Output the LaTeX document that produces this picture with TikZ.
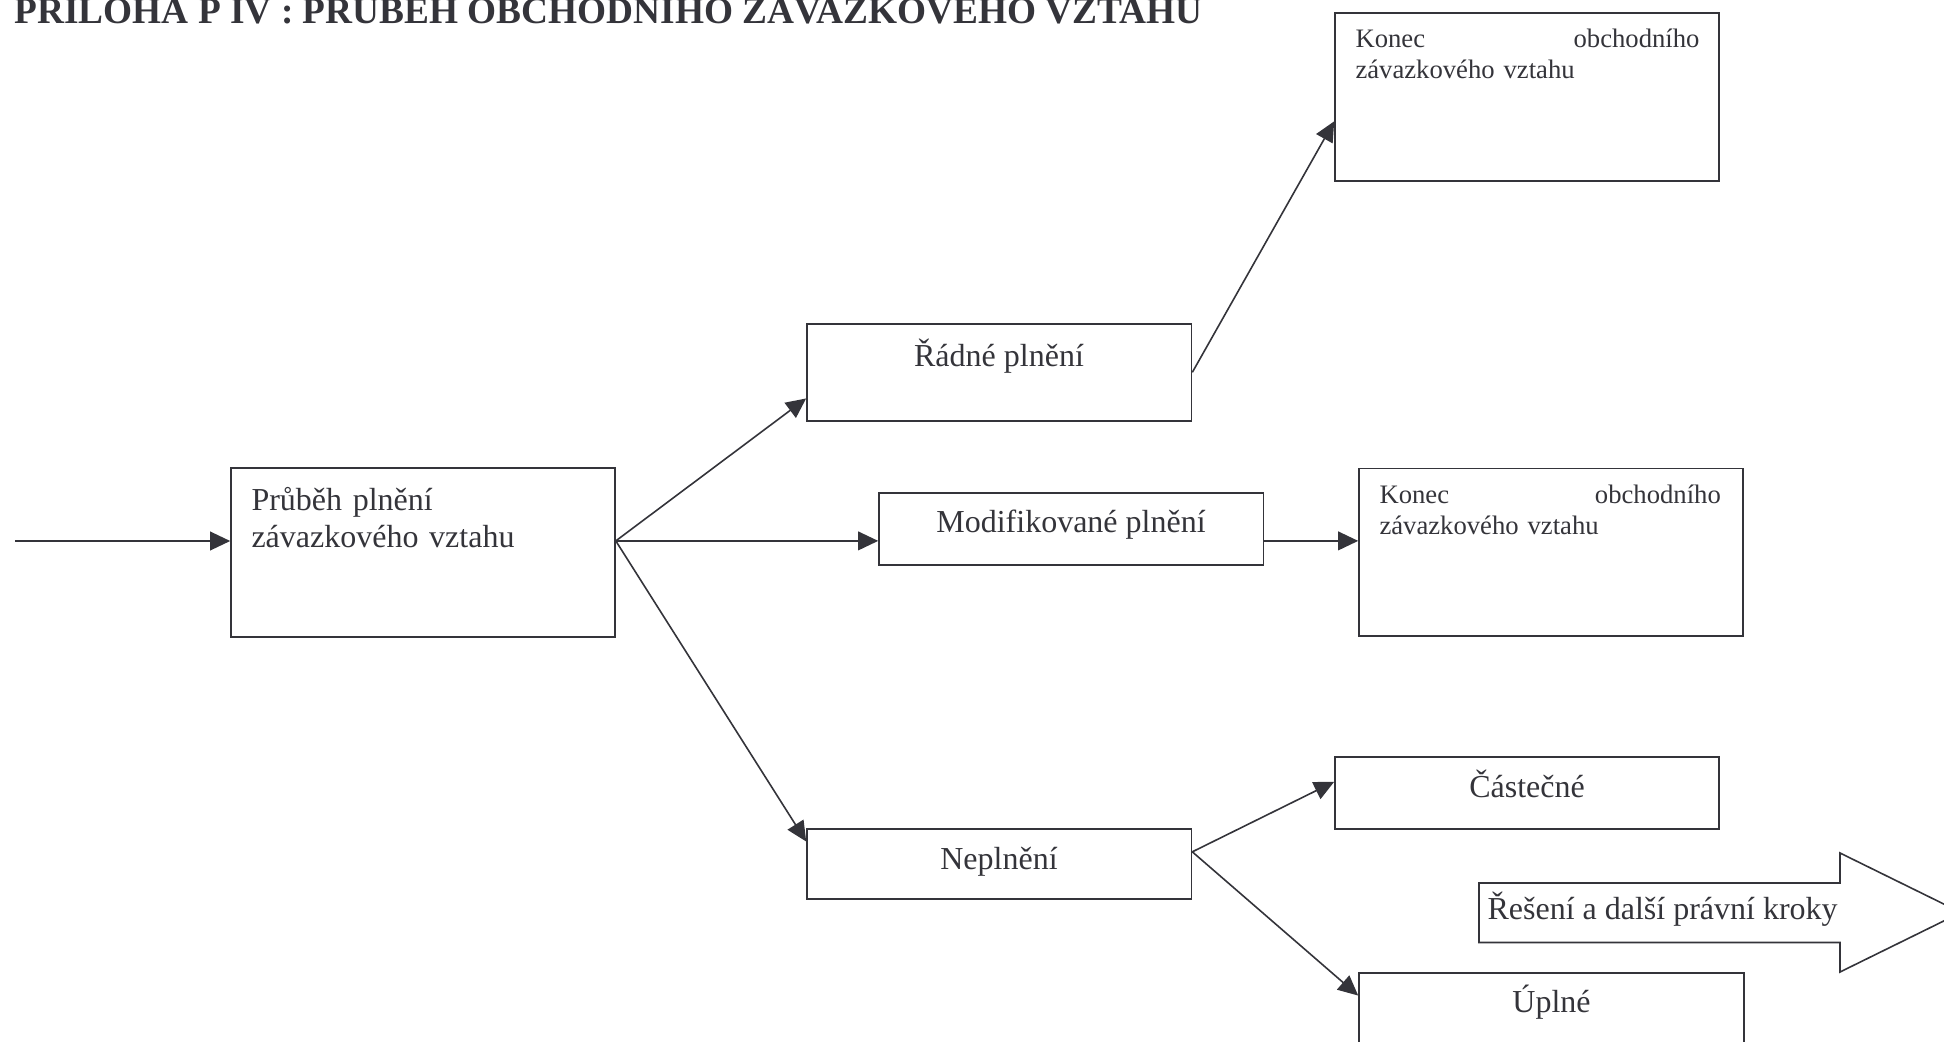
\documentclass[tikz,border=0pt]{standalone}
\usepackage{fontspec}
\setmainfont{Liberation Serif}
\usetikzlibrary{arrows.meta,fit,calc}
\definecolor{ink}{RGB}{52,52,58}
\begin{document}
\begin{tikzpicture}[x=0.375pt,y=-0.375pt,
  box/.style={draw=ink, line width=0.6pt, inner sep=0pt},
  flow/.style={draw=ink, line width=0.6pt, -{Triangle[length=7.5pt,width=7pt]}},
  big/.style={font=\fontsize{12}{13.9}\selectfont, text=ink, inner sep=0pt},
  small/.style={font=\fontsize{10}{11.7}\selectfont, text=ink, inner sep=0pt},
]
\useasboundingbox (0,0) rectangle (1944,1042);

% heading
\node[anchor=base west, inner sep=0pt, text=ink,
      font=\fontsize{14}{16}\selectfont\bfseries] (title) at (14,24)
  {PŘÍLOHA P IV : PRŮBĚH OBCHODNÍHO ZÁVAZKOVÉHO VZTAHU};

% boxes
\node[box, fit={(231,468) (615,637)}] (A) {};
\node[box, fit={(807,324) (1191.5,420.7)}] (R) {};
\node[box, fit={(879,492.7) (1263.3,565)}] (M) {};
\node[box, fit={(807,829) (1191.5,899)}] (N) {};
\node[box, fit={(1335,12.7) (1719,181)}] (K1) {};
\node[box, fit={(1359,468.6) (1743,636)}] (K2) {};
\node[box, fit={(1335,756.7) (1719,829)}] (C) {};
\node[box, fit={(1359,973) (1744,1090)}] (U) {};

% box texts
\node[big, anchor=base west, text width=129pt, align=left] (tA) at (251,510)
  {Průběh plnění\\závazkového vztahu};
\node[big, anchor=base] (tR) at (999,366) {Řádné plnění};
\node[big, anchor=base] (tM) at (1071,532.3) {Modifikované plnění};
\node[big, anchor=base] (tN) at (999,869) {Neplnění};
\node[small, anchor=base west, text width=129pt, align=left] (tK1) at (1355,47.7)
  {Konec\hfill obchodního\\závazkového vztahu};
\node[small, anchor=base west, text width=128pt, align=left] (tK2) at (1379,503.6)
  {Konec\hfill obchodního\\závazkového vztahu};
\node[big, anchor=base] (tC) at (1527,797) {Částečné};
\node[big, anchor=base] (tU) at (1551.5,1012.7) {Úplné};

% block arrow
\draw[box] (1479,883) -- (1840,883) -- (1840,853) -- (1961,912.5)
  -- (1840,972) -- (1840,942.5) -- (1479,942.5) -- cycle;
\node[big, anchor=base west] (tS) at (1487,919) {Řešení a další právní kroky};

% connectors
\coordinate (src) at (15,541);
\coordinate (fan) at ($(A.north east)!0.432!(A.south east)$);
\coordinate (nout) at ($(N.north east)!0.33!(N.south east)$);
\draw[flow] (src) -- (src -| A.west);
\draw[flow] (fan) -- ($(R.north west)!0.765!(R.south west)$);
\draw[flow] (fan) -- (fan -| M.west);
\draw[flow] (fan) -- ($(N.north west)!0.186!(N.south west)$);
\draw[flow] (R.east) -- ($(K1.north west)!0.644!(K1.south west)$);
\draw[flow] (fan -| M.east) -- (fan -| K2.west);
\draw[flow] (nout) -- ($(C.north west)!0.35!(C.south west)$);
\draw[flow] (nout) -- ($(U.north west)!0.197!(U.south west)$);
\end{tikzpicture}
\end{document}
